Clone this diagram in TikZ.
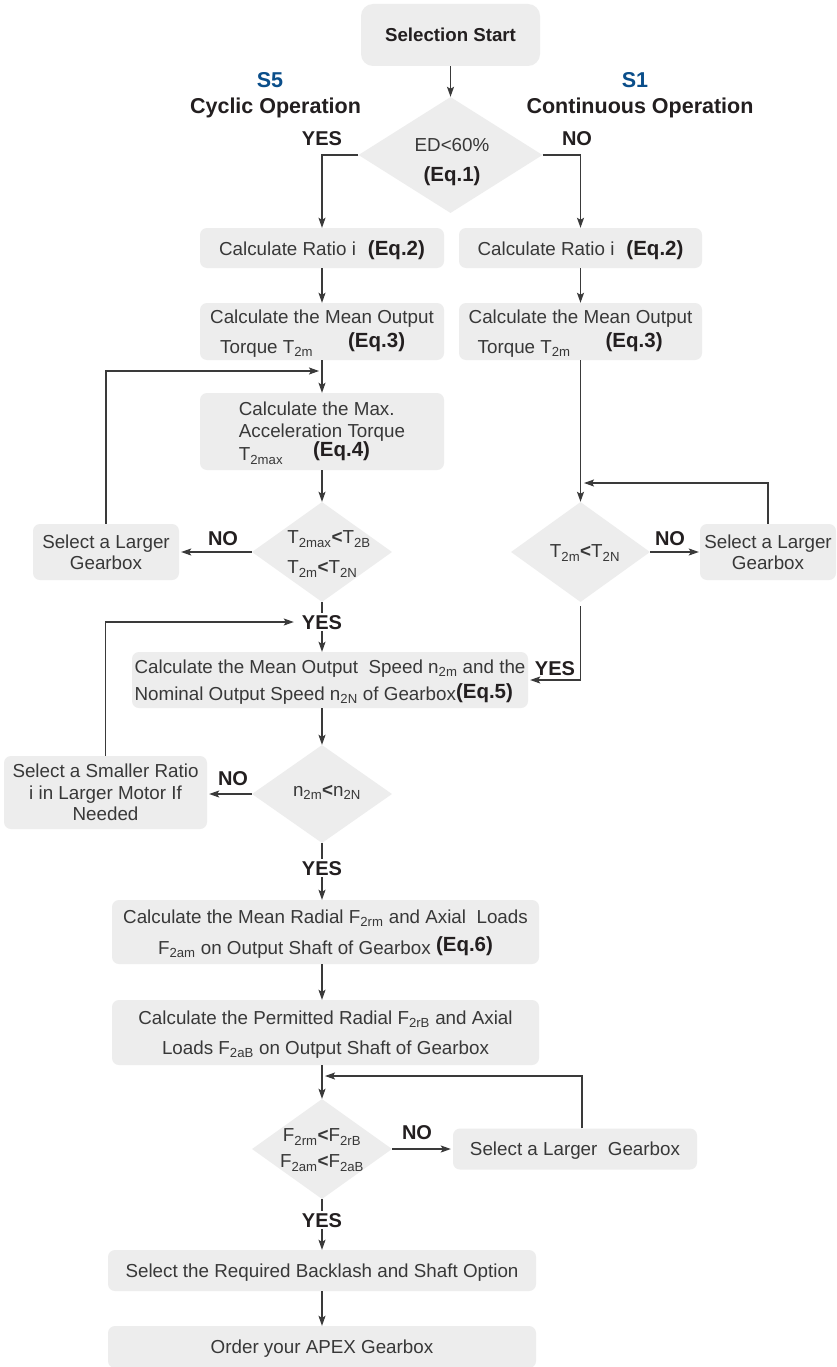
\documentclass[tikz,border=0pt]{standalone}
\usepackage{fontspec}
\setmainfont{Liberation Sans}
\usetikzlibrary{shapes.geometric,arrows.meta,calc}
\definecolor{boxfill}{HTML}{EDEDED}
\definecolor{linec}{HTML}{3A3A3A}
\definecolor{txt}{HTML}{383838}
\definecolor{lab}{HTML}{231F20}
\definecolor{blu}{HTML}{0A4E8A}
\newcommand\eqf[1]{{\fontsize{20.5}{22}\selectfont\bfseries\color{lab}#1}}
\newcommand\sbs[1]{\textsubscript{#1}}
\newcommand\ltb{\textbf{<}}
\begin{document}
\begin{tikzpicture}[x=1pt,y=-1pt,
  box/.style={draw=none, fill=boxfill, rounded corners=7pt, inner sep=0pt, text=txt, font=\fontsize{18.8}{22}\selectfont, align=center, text depth=0pt},
  dia/.style={draw=none, fill=boxfill, shape=diamond, inner sep=0pt},
  dtxt/.style={text=txt, font=\fontsize{18.8}{22}\selectfont, inner sep=0pt},
  lbl/.style={text=lab, font=\fontsize{20}{22}\selectfont\bfseries, inner xsep=8pt, inner ysep=2pt, text height=14.3pt, text depth=0pt},
  head/.style={text=lab, font=\fontsize{21.5}{24}\selectfont\bfseries, anchor=base, inner sep=0pt},
  arr/.style={draw=linec, line width=1.3pt, -{Stealth[length=10pt,width=7pt,inset=2pt]}},
  ln/.style={draw=linec, line width=1.3pt},
]
\fill[white] (0,0) rectangle (836,1367);
\useasboundingbox (0,0) rectangle (836,1367);

% headings
\node[head, text=blu] (s5) at (270,88) {S5};
\node[head] (cyc) at (275.5,113.5) {Cyclic Operation};
\node[head, text=blu] (s1) at (635,88) {S1};
\node[head] (cont) at (640,113.5) {Continuous Operation};

% start and first decision
\node[box, minimum width=179pt, minimum height=62pt, rounded corners=12pt, font=\fontsize{18.7}{22}\selectfont\bfseries, text=lab] (start) at (450.5,35) {Selection Start};
\node[dia, minimum width=184pt, minimum height=116pt] (d1) at (450.5,155) {};
\node[dtxt, align=center] (d1t) at (452,162) {ED<60\%\\[8pt]\eqf{(Eq.1)}};

% ratio boxes
\node[box, minimum width=244pt, minimum height=40pt] (ratioL) at (322,248) {Calculate Ratio i\hspace{12pt}\eqf{(Eq.2)}};
\node[box, minimum width=243pt, minimum height=40pt] (ratioR) at (580.5,248) {Calculate Ratio i\hspace{12pt}\eqf{(Eq.2)}};

% mean torque boxes
\node[box, minimum width=244pt, minimum height=57pt, align=left] (meanL) at (322,331.5) {Calculate the Mean Output\\[4pt]\hspace{10pt}Torque T\sbs{2m}\hspace{35pt}\raisebox{6pt}{\eqf{(Eq.3)}}};
\node[box, minimum width=243pt, minimum height=57pt, align=left] (meanR) at (580.5,331.5) {Calculate the Mean Output\\[4pt]\hspace{9pt}Torque T\sbs{2m}\hspace{35pt}\raisebox{6pt}{\eqf{(Eq.3)}}};

% max accel
\node[box, minimum width=244pt, minimum height=77pt, align=left, font=\fontsize{18.8}{21.5}\selectfont] (maxL) at (322,431.5) {Calculate the Max.\\Acceleration Torque\\T\sbs{2max}\hspace{30pt}\raisebox{4pt}{\eqf{(Eq.4)}}};

% second decisions
\node[dia, minimum width=140pt, minimum height=100pt] (d2) at (322,552) {};
\node[dtxt, align=left] (d2t) at (329,554) {T\sbs{2max}\ltb T\sbs{2B}\\[8pt]T\sbs{2m}\ltb T\sbs{2N}};
\node[box, minimum width=146pt, minimum height=56pt, font=\fontsize{18.8}{20.5}\selectfont] (selL) at (106,552) {Select a Larger\\Gearbox};

\node[dia, minimum width=139pt, minimum height=100pt] (dR) at (580.5,552) {};
\node[dtxt] (dRt) at (585,553) {T\sbs{2m}\ltb T\sbs{2N}};
\node[box, minimum width=136pt, minimum height=56pt, font=\fontsize{18.8}{20.5}\selectfont] (selR) at (768,552) {Select a Larger\\Gearbox};

% speed
\node[box, minimum width=396pt, minimum height=56pt, align=left, font=\fontsize{18.8}{27}\selectfont] (speed) at (330,680) {Calculate the Mean Output\ \ Speed n\sbs{2m} and the\\Nominal Output Speed n\sbs{2N} of Gearbox\raisebox{2pt}{\eqf{(Eq.5)}}};

\node[dia, minimum width=140pt, minimum height=98pt] (d3) at (322,794) {};
\node[dtxt] (d3t) at (327,792) {n\sbs{2m}\ltb n\sbs{2N}};
\node[box, minimum width=203pt, minimum height=73pt, font=\fontsize{18.8}{21.5}\selectfont] (smaller) at (105.5,792.5) {Select a Smaller Ratio\\i in Larger Motor If\\Needed};

% loads
\node[box, minimum width=427pt, minimum height=64pt, font=\fontsize{18.8}{31}\selectfont] (radial) at (325.5,932) {Calculate the Mean Radial F\sbs{2rm} and Axial\ \ Loads\\F\sbs{2am} on Output Shaft of Gearbox \raisebox{3pt}{\eqf{(Eq.6)}}};
\node[box, minimum width=427pt, minimum height=65pt, font=\fontsize{18.8}{30}\selectfont] (permit) at (325.5,1032.5) {Calculate the Permitted Radial F\sbs{2rB} and Axial\\Loads F\sbs{2aB} on Output Shaft of Gearbox};

\node[dia, minimum width=140pt, minimum height=100pt] (d4) at (322,1149) {};
\node[dtxt, align=center, font=\fontsize{18.8}{26}\selectfont] (d4t) at (322,1150) {F\sbs{2rm}\ltb F\sbs{2rB}\\F\sbs{2am}\ltb F\sbs{2aB}};
\node[box, minimum width=244pt, minimum height=41pt] (sel4) at (575,1149) {Select a Larger\ \ Gearbox};

\node[box, minimum width=428pt, minimum height=41pt] (backlash) at (322,1270.5) {Select the Required Backlash and Shaft Option};
\node[box, minimum width=428pt, minimum height=42pt] (order) at (322,1347) {Order your APEX Gearbox};

% YES / NO labels
\node[lbl] (yes1) at (322,138) {YES};
\node[lbl] (no1) at (577,138) {NO};
\node[lbl] (no2) at (223,538) {NO};
\node[lbl] (no3) at (670,538) {NO};
\node[lbl] (yes2) at (322,622) {YES};
\node[lbl] (yes2r) at (555,668) {YES};
\node[lbl] (no4) at (233,778) {NO};
\node[lbl] (yes3) at (322,868) {YES};
\node[lbl] (no5) at (417,1132) {NO};
\node[lbl] (yes4) at (322,1220) {YES};

% junction points of the loops
\coordinate (j1) at (319,371);
\coordinate (j3) at (584,483);
\coordinate (j4) at (325,1076);

% connectors
\draw[arr] (start.south) -- (d1.north);
\draw[arr] (d1.west) -| (ratioL.north);
\draw[arr] (d1.east) -| (ratioR.north);
\draw[arr] (ratioL.south) -- (meanL.north);
\draw[arr] (ratioR.south) -- (meanR.north);
\draw[arr] (meanL.south) -- (maxL.north);
\draw[arr] (selL.north) |- (j1);
\draw[arr] (maxL.south) -- (d2.north);
\draw[arr, shorten >=2pt] (d2.west) -- (d2.west -| selL.east);
\draw[ln] (d2.south) -- (yes2.north);
\draw[arr] (yes2.south) -- (yes2.south |- speed.north);
\draw[arr] (smaller.north) |- (yes2.west);
\draw[arr] (meanR.south) -- (dR.north);
\draw[arr] (selR.north) |- (j3);
\draw[arr, shorten >=1pt] (dR.east) -- (dR.east -| selR.west);
\draw[arr, shorten <=4pt, shorten >=2pt] (dR.south) |- (speed.east);
\draw[arr] (speed.south -| d3.north) -- (d3.north);
\draw[arr, shorten >=2pt] (d3.west) -- (d3.west -| smaller.east);
\draw[ln] (d3.south) -- (yes3.north);
\draw[arr] (yes3.south) -- (yes3.south |- radial.north);
\draw[arr] (radial.south -| d4.north) -- (permit.north -| d4.north);
\draw[arr] (permit.south -| d4.north) -- (d4.north);
\draw[arr] ([xshift=7pt]sel4.north) |- (j4);
\draw[arr, shorten >=2pt] (d4.east) -- (d4.east -| sel4.west);
\draw[ln] (d4.south) -- (yes4.north);
\draw[arr] (yes4.south) -- (yes4.south |- backlash.north);
\draw[arr] (backlash.south) -- (order.north);
\end{tikzpicture}
\end{document}
